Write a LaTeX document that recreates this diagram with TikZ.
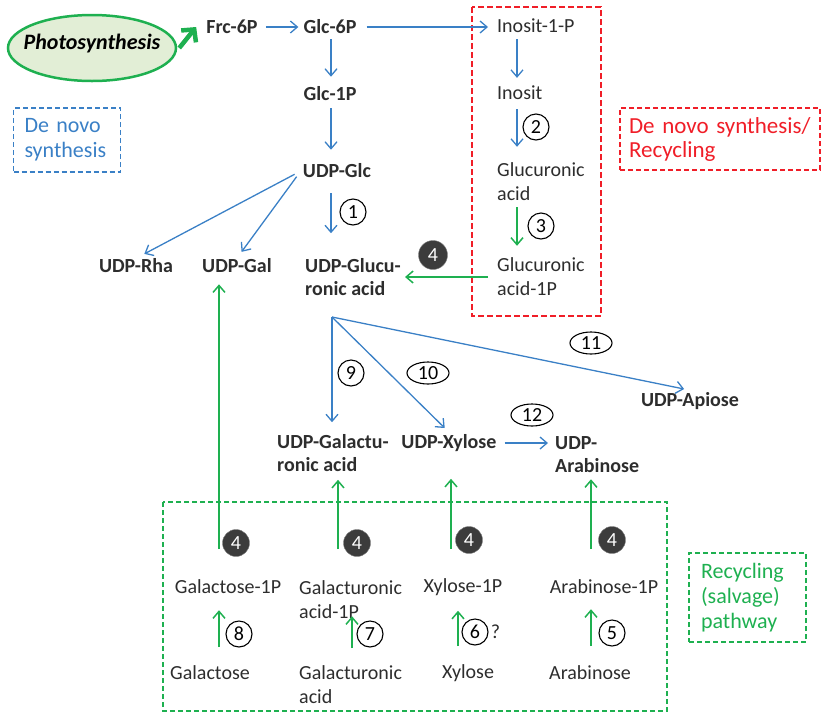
\documentclass[tikz,border=0pt]{standalone}
\usepackage{fontspec}
\setmainfont{Carlito}
\usetikzlibrary{shapes,arrows.meta,positioning}
\definecolor{pathblue}{RGB}{58,128,198}
\definecolor{pathgreen}{RGB}{30,176,80}
\definecolor{boxred}{RGB}{240,30,40}
\definecolor{txtgray}{RGB}{45,45,45}
\definecolor{leafgreen}{RGB}{226,238,214}
\definecolor{darknum}{RGB}{60,60,60}

\begin{document}
\begin{tikzpicture}[x=1pt,y=-1pt]
 \tikzset{main node/.style={font=\fontsize{20}{23}\selectfont\bfseries,
 		text=txtgray, inner sep=2pt, align=left}, }
 \tikzset{plain node/.style={font=\fontsize{20}{24}\selectfont,
 		text=txtgray, inner sep=2pt, align=left}, }
 \tikzset{num node/.style={circle, draw, line width=1.1pt, minimum size=26pt,
 		inner sep=0pt, font=\fontsize{20}{20}\selectfont}, }
 \tikzset{wide node/.style={ellipse, draw, line width=1.1pt, minimum width=42pt,
 		minimum height=22pt, inner sep=0pt, font=\fontsize{20}{20}\selectfont}, }
 \tikzset{dark node/.style={circle, fill=darknum, draw=gray, text=white,
 		minimum size=27pt, inner sep=0pt, font=\fontsize{20}{20}\selectfont}, }
 \tikzset{label node/.style={draw, line width=1.5pt, dash pattern=on 5pt off 3pt,
 		align=left, font=\fontsize{22}{25}\selectfont}, }
 \tikzset{lineb/.style={draw=pathblue, line width=1.3pt,
 		-{Straight Barb[length=7pt,width=12pt]}},}
 \tikzset{lineg/.style={draw=pathgreen, line width=1.5pt,
 		-{Straight Barb[length=7pt,width=12pt]}},}
 \useasboundingbox (0,0) rectangle (822,713);
 % boxes
 \draw[boxred, line width=2.2pt, dash pattern=on 6pt off 3pt] (472,7) rectangle (601,316);
 \draw[pathgreen, line width=1.4pt, dash pattern=on 5pt off 3pt] (163,502) rectangle (667,711);
 \node[label node, pathblue, text width=85pt, inner xsep=11pt, minimum height=64pt] (lb) at (67,140) {De novo\\synthesis};
 \node[label node, boxred, text width=182pt, inner xsep=9pt, minimum height=62pt,
 	font=\fontsize{23}{24}\selectfont] (lr) at (720,139) {De novo synthesis/\\Recycling};
 \node[label node, pathgreen, text width=93pt, inner xsep=12pt, minimum height=89pt] (lg) at (747.5,597.5) {Recycling\\(salvage)\\pathway};

 \node[ellipse, draw=pathgreen, fill=leafgreen, line width=2.5pt,
 	minimum width=168pt, minimum height=66pt] (ps) at (92,48) {};
 \node[font=\fontsize{22}{24}\selectfont\bfseries\itshape] (pst) at (92,44) {Photosynthesis};
 % de novo pathway
 \node[main node] (1) at (232,27) {Frc-6P};
 \node[main node] (2) at (330,27) {Glc-6P};
 \node[main node] (3) at (330,94) {Glc-1P};
 \node[main node] (4) at (337,171) {UDP-Glc};
 \node[main node] (5) at (136,266) {UDP-Rha};
 \node[main node] (6) at (237,266) {UDP-Gal};
 \node[main node, anchor=west] (7) at (303,277) {UDP-Glucu-\\ronic acid};
 \node[plain node, anchor=west] (8) at (495,26) {Inosit-1-P};
 \node[plain node, anchor=west] (9) at (495,93) {Inosit};
 \node[plain node, anchor=west] (10) at (495,182) {Glucuronic\\acid};
 \node[plain node, anchor=west] (11) at (495,277) {Glucuronic\\acid-1P};
 \node[main node, anchor=west] (12) at (275,453) {UDP-Galactu-\\ronic acid};
 \node[main node] (13) at (449,443) {UDP-Xylose};
 \node[main node, anchor=west] (14) at (553,455) {UDP-\\Arabinose};
 \node[main node] (15) at (690,401) {UDP-Apiose};
 % salvage pathway
 \node[plain node] (16) at (228,587) {Galactose-1P};
 \node[plain node, anchor=west] (17) at (297,600) {Galacturonic\\acid-1P};
 \node[plain node] (18) at (463,587) {Xylose-1P};
 \node[plain node] (19) at (604,587) {Arabinose-1P};
 \node[plain node] (20) at (210,673) {Galactose};
 \node[plain node, anchor=west] (21) at (297,685) {Galacturonic\\acid};
 \node[plain node] (22) at (468,673) {Xylose};
 \node[plain node] (23) at (590,673) {Arabinose};
 \coordinate (b) at (332,317);
 \coordinate (c1) at (331,0);
 \coordinate (c2) at (517,0);

 \draw[draw=pathgreen, line width=4.5pt, -{Straight Barb[length=9pt,width=19pt]}]
 	([xshift=2pt]ps.east) -- ([xshift=-8pt]1.west);
 \foreach \x /\y /\s /\t in{1/2/6/3,2/8/8/7,13/14/6/5}
 \draw[lineb, shorten <=\s pt, shorten >=\t pt] (\x) -- (\x -| \y.west);
 \draw[lineb, shorten <=3pt, shorten >=8pt] (2.south -| c1) -- (3.north -| c1);
 \draw[lineb, shorten <=5pt, shorten >=12pt] (3.south -| c1) -- (4.north -| c1);
 \draw[lineb, shorten <=13pt, shorten >=23pt] (4.south -| c1) -- (7.north -| c1);
 \draw[lineb, shorten <=4pt, shorten >=6pt] (8.south -| c2) -- (9.north -| c2);
 \draw[lineb, shorten <=7pt, shorten >=14pt] (9.south -| c2) -- (10.north -| c2);
 \draw[lineg, shorten <=4pt, shorten >=10pt] (10.south -| c2) -- (11.north -| c2);
 \draw[lineb, shorten <=7pt, shorten >=6pt] (4.west) -- ([xshift=3pt]5.north);
 \draw[lineb, shorten <=7pt, shorten >=6pt] (4.west) -- ([xshift=1pt]6.north);
 \draw[lineg, shorten <=7pt, shorten >=2pt] (11.west |- 7) -- (7.east);
 \draw[lineb, shorten >=10pt] (b) -- (b |- 12.north);
 \draw[lineb, shorten >=6pt] (b) -- (13.north);
 \draw[lineb, shorten >=6pt] (b) -- (15.north);
 % salvage arrows
 \coordinate (g1) at (219,549);
 \coordinate (g2) at (338,549);
 \coordinate (g3) at (451,549);
 \coordinate (g4) at (591,549);
 \draw[lineg, shorten >=9pt] (g1) -- (g1 |- 6.south);
 \draw[lineg, shorten >=6pt] (g2) -- (g2 |- 12.south);
 \draw[lineg, shorten >=25pt] (g3) -- (g3 |- 13.south);
 \draw[lineg, shorten >=4pt] (g4) -- (g4 |- 14.south);
 \coordinate (s1) at (219,647);
 \coordinate (s2) at (352,648);
 \coordinate (s3) at (458,646);
 \coordinate (s4) at (591,646);
 \draw[lineg, shorten >=14pt] (s1) -- (s1 |- 16.south);
 \draw[lineg, shorten >=-5pt] (s2) -- (s2 |- 17.south);
 \draw[lineg, shorten >=13pt] (s3) -- (s3 |- 18.south);
 \draw[lineg, shorten >=13pt] (s4) -- (s4 |- 19.south);
 % enzyme numbers
 \node[num node] (n1) at (353,212) {1};
 \node[num node] (n2) at (536,127) {2};
 \node[num node] (n3) at (541,226) {3};
 \node[dark node, minimum size=29pt] (n4) at (433,255) {4};
 \node[num node] (n9) at (351,373) {9};
 \node[wide node] (n10) at (428,373) {10};
 \node[wide node] (n11) at (591,343) {11};
 \node[wide node] (n12) at (532,415) {12};
 \node[dark node] (n4a) at (236,543) {4};
 \node[dark node] (n4b) at (357,543) {4};
 \node[dark node] (n4c) at (469,540) {4};
 \node[dark node] (n4d) at (612,540) {4};
 \node[num node] (n8) at (239,634) {8};
 \node[num node] (n7) at (370,634) {7};
 \node[num node] (n6) at (475,632) {6};
 \node[plain node, right=0pt of n6] (q) {?};
 \node[num node] (n5) at (612,633) {5};
\end{tikzpicture}
\end{document}
